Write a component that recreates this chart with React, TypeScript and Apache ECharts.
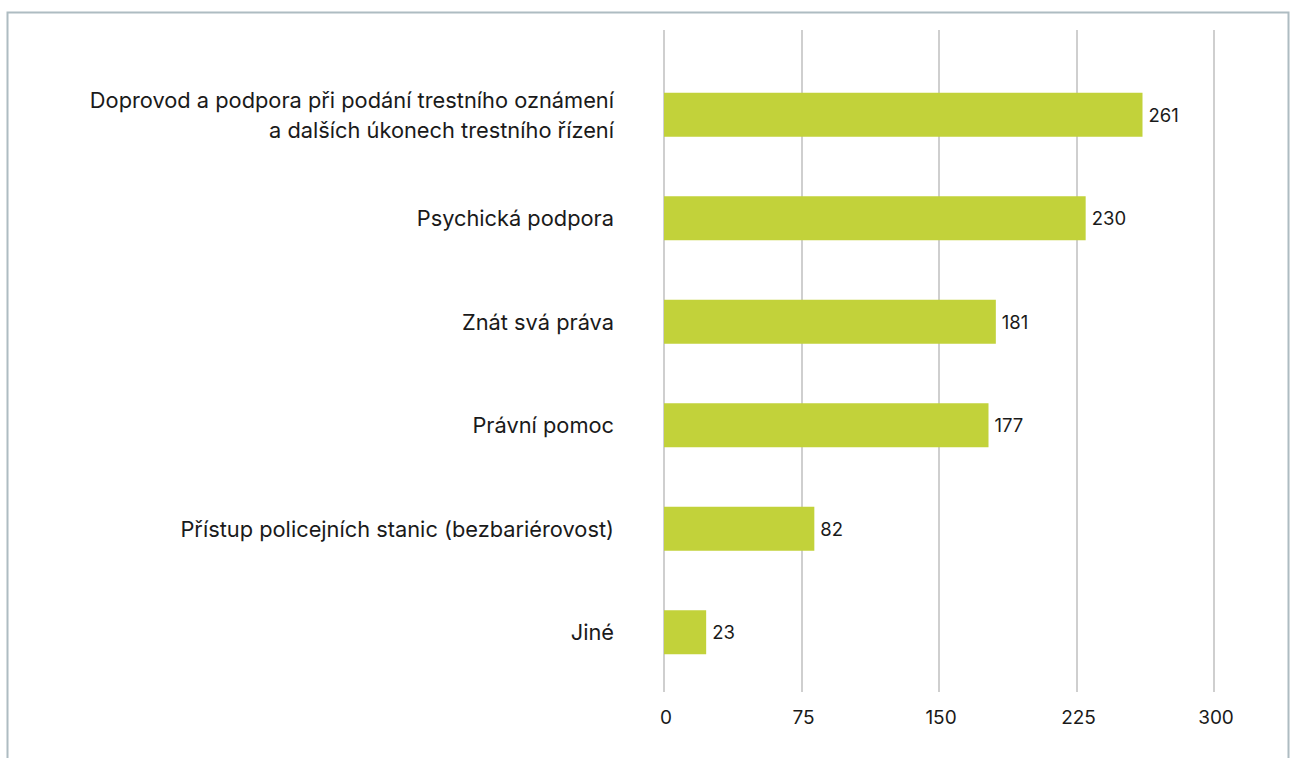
import React, { useEffect, useRef } from "react";
import * as echarts from "echarts";

const categories = [
  "Doprovod a podpora při podání trestního oznámení\na dalších úkonech trestního řízení",
  "Psychická podpora",
  "Znát svá práva",
  "Právní pomoc",
  "Přístup policejních stanic (bezbariérovost)",
  "Jiné",
];
const values = [261, 230, 181, 177, 82, 23];
const xMin = 0;
const xMax = 300;
const xInterval = 75;

export default function App() {
  const ref = useRef<HTMLDivElement>(null);
  useEffect(() => {
    if (!ref.current) return;
    const chart = echarts.init(ref.current, null, { renderer: "svg" });
    const font = "Inter, 'Noto Sans', sans-serif";
    const gridLine = { show: true, lineStyle: { color: "#bfbfbf", width: 1.5 } };
    const baseX = {
      type: "value",
      min: xMin,
      max: xMax,
      interval: xInterval,
      axisLine: { show: false },
      axisTick: { show: false },
      splitLine: gridLine,
    };
    chart.setOption({
      animation: false,
      backgroundColor: "#ffffff",
      grid: [
        { left: 664, right: 76, top: 63, height: 621, containLabel: false },
        { left: 664, right: 76, top: 30, height: 33, containLabel: false },
        { left: 664, right: 76, top: 684, height: 8, containLabel: false },
      ],
      xAxis: [
        { ...baseX, gridIndex: 0, axisLabel: { show: false } },
        { ...baseX, gridIndex: 1, axisLabel: { show: false } },
        {
          ...baseX,
          gridIndex: 2,
          axisLabel: { color: "#1a1a1a", fontSize: 19, fontFamily: font, margin: 16, padding: [0, 0, 0, 4] },
        },
      ],
      yAxis: [
        {
          gridIndex: 0,
          type: "category",
          data: categories,
          inverse: true,
          axisLine: { show: false },
          axisTick: { show: false },
          axisLabel: {
            color: "#1a1a1a",
            fontSize: 21.8,
            fontFamily: font,
            margin: 50,
            align: "right",
            lineHeight: 30,
          },
        },
        { gridIndex: 1, type: "category", data: ["a"], show: false },
        { gridIndex: 2, type: "category", data: ["b"], show: false },
      ],
      series: [
        {
          type: "bar",
          xAxisIndex: 0,
          yAxisIndex: 0,
          data: values,
          barWidth: 44,
          itemStyle: { color: "#c2d23a" },
          label: {
            show: true,
            position: "right",
            distance: 6,
            color: "#1a1a1a",
            fontSize: 18.5,
            fontFamily: font,
            padding: [0, 0, 6, 0],
          },
        },
      ],
      graphic: [
        {
          type: "rect",
          shape: { x: 7.5, y: 12.5, width: 1281, height: 800 },
          style: { fill: "none", stroke: "#aebcc2", lineWidth: 2 },
          silent: true,
        },
      ],
    });
    return () => chart.dispose();
  }, []);
  return (
    <div
      ref={ref}
      style={{ position: "fixed", left: 0, top: 0, width: 1290, height: 758 }}
    />
  );
}
